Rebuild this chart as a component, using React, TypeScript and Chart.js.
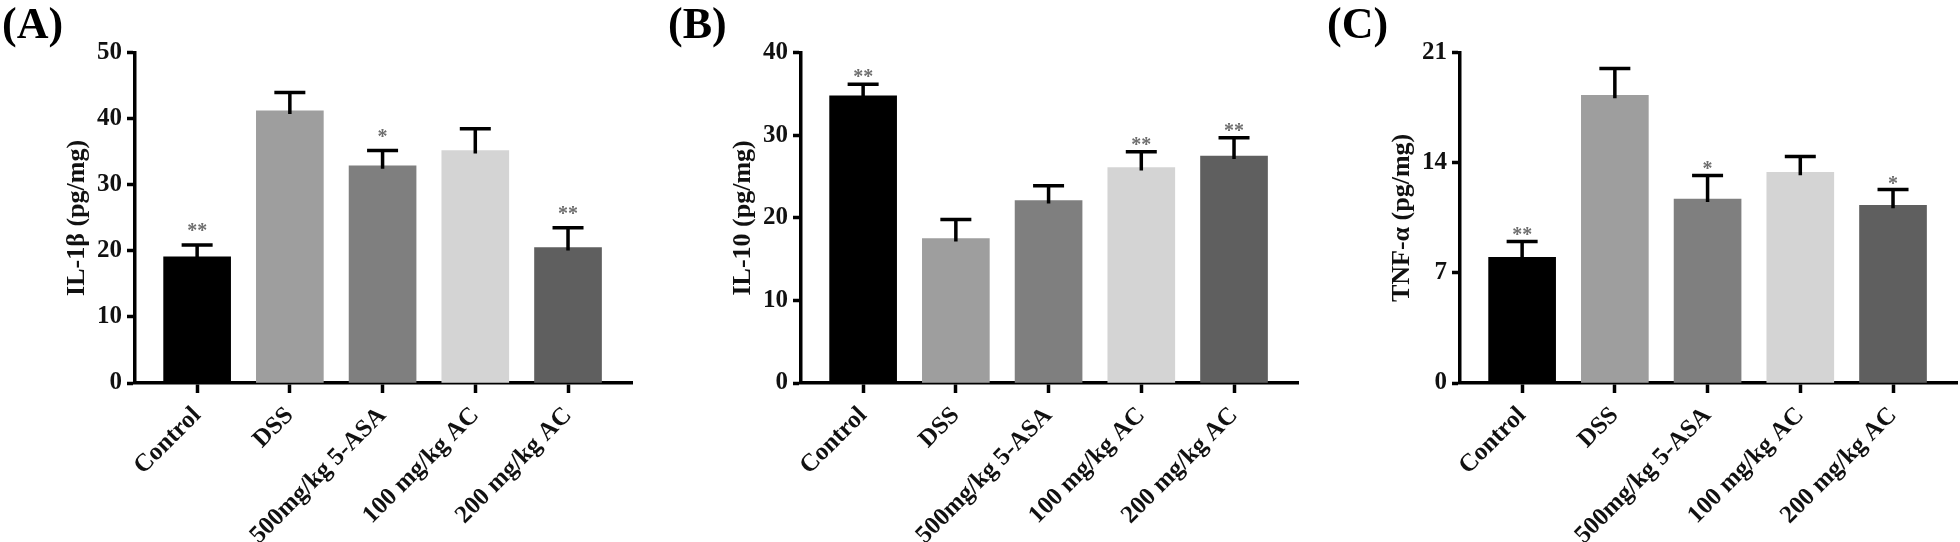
import React, { useEffect, useRef } from 'react';
import { Chart, registerables } from 'chart.js';

Chart.register(...registerables);

// ---- data ----
const categories = ['Control', 'DSS', '500mg/kg 5-ASA', '100 mg/kg AC', '200 mg/kg AC'];
const barColors = ['#000000', '#9e9e9e', '#7f7f7f', '#d4d4d4', '#5f5f5f'];

const il1bMeans = [19.1, 41.2, 32.9, 35.2, 20.5];
const il1bErrors = [1.8, 2.8, 2.3, 3.3, 3.0];
const il1bStars = ['**', '', '*', '', '**'];
const il1bTicks = [0, 10, 20, 30, 40, 50];

const il10Means = [34.8, 17.5, 22.1, 26.1, 27.5];
const il10Errors = [1.4, 2.3, 1.8, 1.9, 2.2];
const il10Stars = ['**', '', '', '**', '**'];
const il10Ticks = [0, 10, 20, 30, 40];

const tnfMeans = [8.0, 18.3, 11.7, 13.4, 11.3];
const tnfErrors = [1.0, 1.7, 1.5, 1.0, 1.0];
const tnfStars = ['**', '', '*', '', '*'];
const tnfTicks = [0, 7, 14, 21];

const FONT = '"Liberation Serif", "Times New Roman", serif';

const errorStarPlugin = {
  id: 'errorStars',
  afterDatasetsDraw(chart: any, _args: any, opts: any) {
    const { ctx } = chart;
    const y = chart.scales.y;
    const meta = chart.getDatasetMeta(0);
    const data = chart.data.datasets[0].data as any[];
    ctx.save();
    meta.data.forEach((bar: any, i: number) => {
      const m = data[i].y;
      const e = opts.errors[i];
      const x = bar.x;
      const yTop = y.getPixelForValue(m + e);
      const yBase = y.getPixelForValue(m) + 3;
      ctx.strokeStyle = '#000';
      ctx.lineWidth = 3.5;
      ctx.beginPath();
      ctx.moveTo(x, yBase);
      ctx.lineTo(x, yTop);
      ctx.moveTo(x - 15.5, yTop);
      ctx.lineTo(x + 15.5, yTop);
      ctx.stroke();
      const s = opts.stars[i];
      if (s) {
        ctx.fillStyle = '#6e6e6e';
        ctx.font = `bold 20px ${FONT}`;
        ctx.textAlign = 'center';
        ctx.textBaseline = 'alphabetic';
        ctx.fillText(s, x, yTop - opts.gap + 9);
      }
    });
    ctx.restore();
  },
};

type PanelProps = {
  left: number;
  width: number;
  label: string;
  yTitle: string;
  means: number[];
  errors: number[];
  stars: string[];
  yTicks: number[];
  gap: number;
};

function Panel({ left, width, label, yTitle, means, errors, stars, yTicks, gap }: PanelProps) {
  const ref = useRef<HTMLCanvasElement | null>(null);
  useEffect(() => {
    if (!ref.current) return;
    const chart = new Chart(ref.current, {
      type: 'bar',
      data: {
        datasets: [
          {
            data: means.map((v, i) => ({ x: i, y: v })),
            backgroundColor: barColors,
            borderWidth: 0,
            barThickness: 67,
          } as any,
        ],
      },
      plugins: [errorStarPlugin as any],
      options: {
        responsive: false,
        animation: false,
        devicePixelRatio: 1,
        layout: { padding: { left: 2, right: width - 632, top: 0, bottom: 0 } },
        plugins: {
          legend: { display: false },
          tooltip: { enabled: false },
          title: {
            display: true,
            text: label,
            align: 'start',
            color: '#000',
            font: { family: FONT, size: 44, weight: 'bold' },
            padding: 0,
          },
          errorStars: { errors, stars, gap },
        } as any,
        scales: {
          x: {
            type: 'linear',
            min: -0.67,
            max: 4.69,
            offset: false,
            bounds: 'data',
            afterBuildTicks: (s: any) => {
              s.ticks = categories.map((_, i) => ({ value: i }));
            },
            afterFit: (s: any) => {
              s.height = 159;
            },
            grid: {
              display: true,
              offset: false,
              drawOnChartArea: false,
              drawTicks: true,
              tickLength: 10,
              tickWidth: 3.5,
              color: '#000',
              tickColor: '#000',
            },
            border: { display: true, color: '#000', width: 3.5 },
            ticks: {
              autoSkip: false,
              maxRotation: 45,
              minRotation: 45,
              padding: 8,
              color: '#111',
              font: { family: FONT, size: 25, weight: 'bold' },
              callback: (v: any) => categories[Math.round(Number(v))] ?? '',
            },
          },
          y: {
            type: 'linear',
            min: 0,
            max: yTicks[yTicks.length - 1],
            afterBuildTicks: (s: any) => {
              s.ticks = yTicks.map((v) => ({ value: v }));
            },
            afterFit: (s: any) => {
              s.width = 133;
            },
            grid: {
              display: true,
              drawOnChartArea: false,
              drawTicks: true,
              tickLength: 8,
              tickWidth: 3.5,
              color: '#000',
              tickColor: '#000',
            },
            border: { display: true, color: '#000', width: 3.5 },
            ticks: {
              padding: 5,
              color: '#111',
              font: { family: FONT, size: 25, weight: 'bold' },
              callback: (v: any) => String(v),
            },
            title: {
              display: true,
              text: yTitle,
              color: '#111',
              font: { family: FONT, size: 26, weight: 'bold' },
              padding: { top: 60, bottom: 0 },
            },
          },
        } as any,
      },
    });
    return () => chart.destroy();
  }, []);
  return (
    <canvas
      ref={ref}
      width={width}
      height={542}
      style={{ position: 'absolute', left, top: 0, width, height: 542 }}
    />
  );
}

export default function App() {
  return (
    <div
      style={{
        position: 'fixed',
        left: 0,
        top: 0,
        width: 1960,
        height: 542,
        background: '#fff',
        overflow: 'hidden',
      }}
    >
      <Panel left={0} width={640} label="(A)" yTitle="IL-1β (pg/mg)" means={il1bMeans} errors={il1bErrors} stars={il1bStars} yTicks={il1bTicks} gap={17} />
      <Panel left={666} width={640} label="(B)" yTitle="IL-10 (pg/mg)" means={il10Means} errors={il10Errors} stars={il10Stars} yTicks={il10Ticks} gap={10} />
      <Panel left={1325} width={635} label="(C)" yTitle="TNF-α (pg/mg)" means={tnfMeans} errors={tnfErrors} stars={tnfStars} yTicks={tnfTicks} gap={9} />
    </div>
  );
}
